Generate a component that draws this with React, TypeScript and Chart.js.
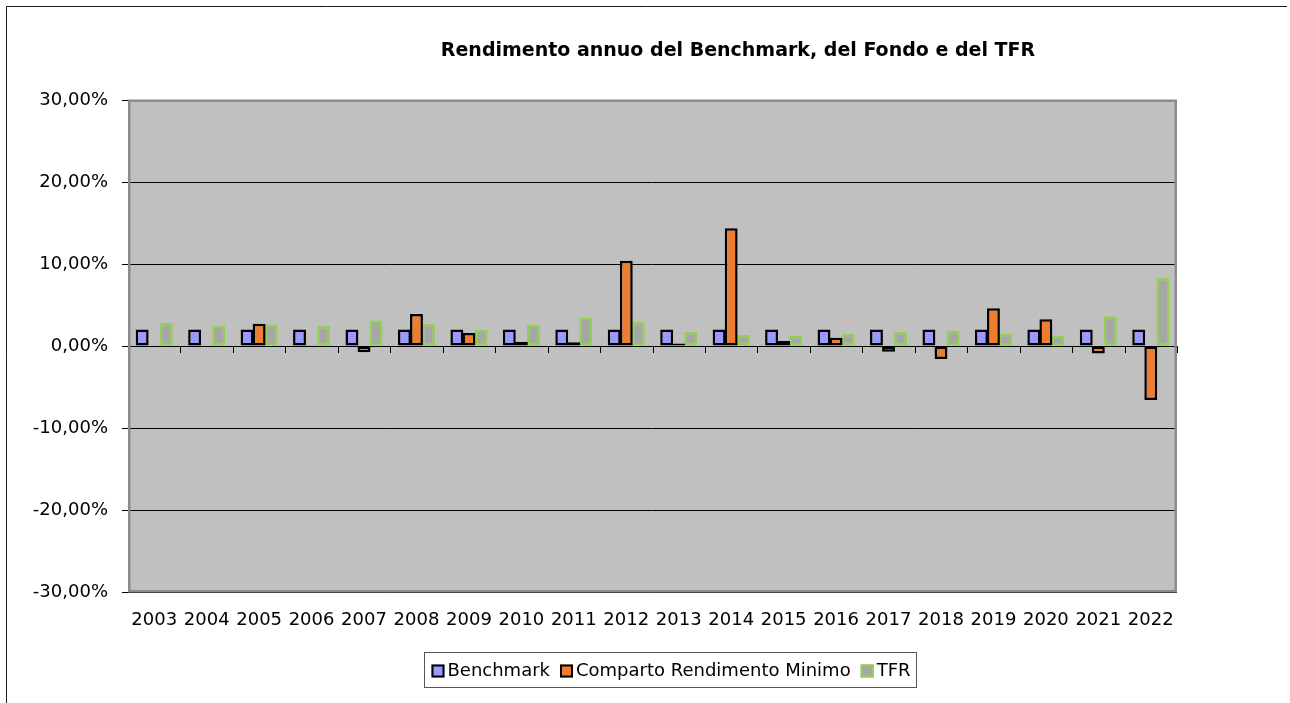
import React, { useEffect, useRef } from "react";
import { Chart, registerables } from "chart.js";

Chart.register(...registerables);

const years = ["2003", "2004", "2005", "2006", "2007", "2008", "2009", "2010", "2011", "2012", "2013", "2014", "2015", "2016", "2017", "2018", "2019", "2020", "2021", "2022"];
const benchmark = [2.0, 2.0, 2.0, 2.0, 2.0, 2.0, 2.0, 2.0, 2.0, 2.0, 2.0, 2.0, 2.0, 2.0, 2.0, 2.0, 2.0, 2.0, 2.0, 2.0];
const comparto = [null, null, 2.7, 0.1, -0.75, 3.9, 1.6, 0.5, 0.45, 10.4, 0.3, 14.35, 0.6, 1.0, -0.7, -1.6, 4.6, 3.25, -0.9, -6.6];
const tfr = [2.85, 2.49, 2.63, 2.44, 3.11, 2.7, 2.0, 2.61, 3.45, 2.94, 1.71, 1.34, 1.25, 1.49, 1.74, 1.86, 1.49, 1.25, 3.62, 8.28];
const seriesNames = ["Benchmark", "Comparto Rendimento Minimo", "TFR"];
const yTicks = { min: -30, max: 30, step: 10 };
const titleText = "Rendimento annuo del Benchmark, del Fondo e del TFR";

const FONT = "'DejaVu Sans', Verdana, sans-serif";

const decorPlugin = {
  id: "decor",
  beforeDraw(chart: any) {
    const { ctx, chartArea: a } = chart;
    ctx.save();
    ctx.fillStyle = "#ffffff";
    ctx.fillRect(0, 0, chart.width, chart.height);
    ctx.fillStyle = "#C0C0C0";
    ctx.fillRect(a.left, a.top, a.right - a.left, a.bottom - a.top);
    ctx.restore();
  },
  afterDraw(chart: any) {
    const { ctx, chartArea: a } = chart;
    const xs = chart.scales.x;
    const ys = chart.scales.y;
    ctx.save();
    // outer chart border (top + left)
    ctx.strokeStyle = "#1a1a1a";
    ctx.lineWidth = 1;
    ctx.beginPath();
    ctx.moveTo(6.5, chart.height);
    ctx.lineTo(6.5, 6.5);
    ctx.lineTo(1287, 6.5);
    ctx.stroke();

    // plot area border
    ctx.strokeStyle = "#8c8c8c";
    ctx.lineWidth = 2.5;
    ctx.strokeRect(a.left + 1.25, a.top + 0.75, a.right - a.left - 2.5, a.bottom - a.top - 1.5);

    // tick marks on the zero line between categories
    const y0 = ys.getPixelForValue(0);
    ctx.strokeStyle = "#000000";
    ctx.lineWidth = 1;
    const n = years.length;
    const step = (a.right - a.left) / n;
    ctx.beginPath();
    for (let i = 1; i <= n; i++) {
      const xb = Math.round(xs.getPixelForTick(i - 1) + step / 2) + 0.5;
      ctx.moveTo(xb, y0);
      ctx.lineTo(xb, y0 + 7);
    }
    ctx.stroke();

    // title
    ctx.fillStyle = "#000000";
    ctx.font = `bold 19px ${FONT}`;
    ctx.textAlign = "center";
    ctx.textBaseline = "alphabetic";
    ctx.fillText(titleText, 738, 56);

    // legend
    ctx.font = `18px ${FONT}`;
    const ds = chart.data.datasets;
    const box = 13;
    const gapText = 3;
    const gapItem = 10;
    const widths = ds.map((d: any) => ctx.measureText(d.label).width);
    let total = 0;
    widths.forEach((w: number, i: number) => {
      total += box + gapText + w + (i < widths.length - 1 ? gapItem : 0);
    });
    const cx = 671;
    const cy = 671;
    let x = cx - total / 2;
    ctx.strokeStyle = "#555555";
    ctx.lineWidth = 1;
    ctx.strokeRect(Math.round(x - 7) + 0.5, 652.5, Math.round(total + 13), 35);
    ds.forEach((d: any, i: number) => {
      ctx.fillStyle = d.backgroundColor;
      ctx.fillRect(x, cy - box / 2, box, box);
      ctx.strokeStyle = d.borderColor;
      ctx.lineWidth = 2;
      ctx.strokeRect(x + 1, cy - box / 2 + 1, box - 2, box - 2);
      ctx.fillStyle = "#000000";
      ctx.textAlign = "left";
      ctx.textBaseline = "middle";
      ctx.fillText(d.label, x + box + gapText, cy);
      x += box + gapText + widths[i] + gapItem;
    });
    ctx.restore();
  },
};

export default function App() {
  const ref = useRef<HTMLCanvasElement | null>(null);
  useEffect(() => {
    document.body.style.margin = "0";
    const canvas = ref.current;
    if (!canvas) return;
    const chart = new Chart(canvas, {
      type: "bar",
      data: {
        labels: years,
        datasets: [
          {
            label: seriesNames[0],
            data: benchmark,
            backgroundColor: "#9999FF",
            borderColor: "#000000",
            borderWidth: 2.5,
            borderSkipped: false,
          },
          {
            label: seriesNames[1],
            data: comparto as any,
            backgroundColor: "#ED7D31",
            borderColor: "#000000",
            borderWidth: 2.5,
            borderSkipped: false,
          },
          {
            label: seriesNames[2],
            data: tfr,
            backgroundColor: "#A6A6A6",
            borderColor: "#92D050",
            borderWidth: 2.5,
            borderSkipped: false,
          },
        ],
      },
      options: {
        responsive: false,
        animation: false,
        devicePixelRatio: 1,
        layout: { padding: { left: 0, right: 113, top: 100, bottom: 0 } },
        datasets: { bar: { categoryPercentage: 0.69, barPercentage: 1.07 } },
        plugins: {
          legend: { display: false },
          title: { display: false },
          tooltip: { enabled: false },
        },
        scales: {
          x: {
            grid: { display: false, drawTicks: false },
            border: { display: false },
            ticks: {
              color: "#000000",
              font: { family: FONT, size: 18 },
              padding: 18,
              maxRotation: 0,
              autoSkip: false,
            },
            afterFit: (s: any) => {
              s.height = 111;
            },
          },
          y: {
            min: yTicks.min,
            max: yTicks.max,
            grid: {
              color: "#000000",
              lineWidth: 1,
              tickLength: 6,
              tickColor: "#000000",
            },
            border: { display: false },
            ticks: {
              stepSize: yTicks.step,
              color: "#000000",
              padding: 14,
              font: { family: FONT, size: 18 },
              callback: (v: any) => Number(v).toFixed(2).replace(".", ",") + "%",
            },
            afterFit: (s: any) => {
              s.width = 128;
            },
          },
        },
      },
      plugins: [decorPlugin],
    });
    return () => chart.destroy();
  }, []);
  return (
    <div style={{ width: 1290, height: 703, background: "#ffffff" }}>
      <canvas ref={ref} width={1290} height={703} style={{ display: "block" }} />
    </div>
  );
}
